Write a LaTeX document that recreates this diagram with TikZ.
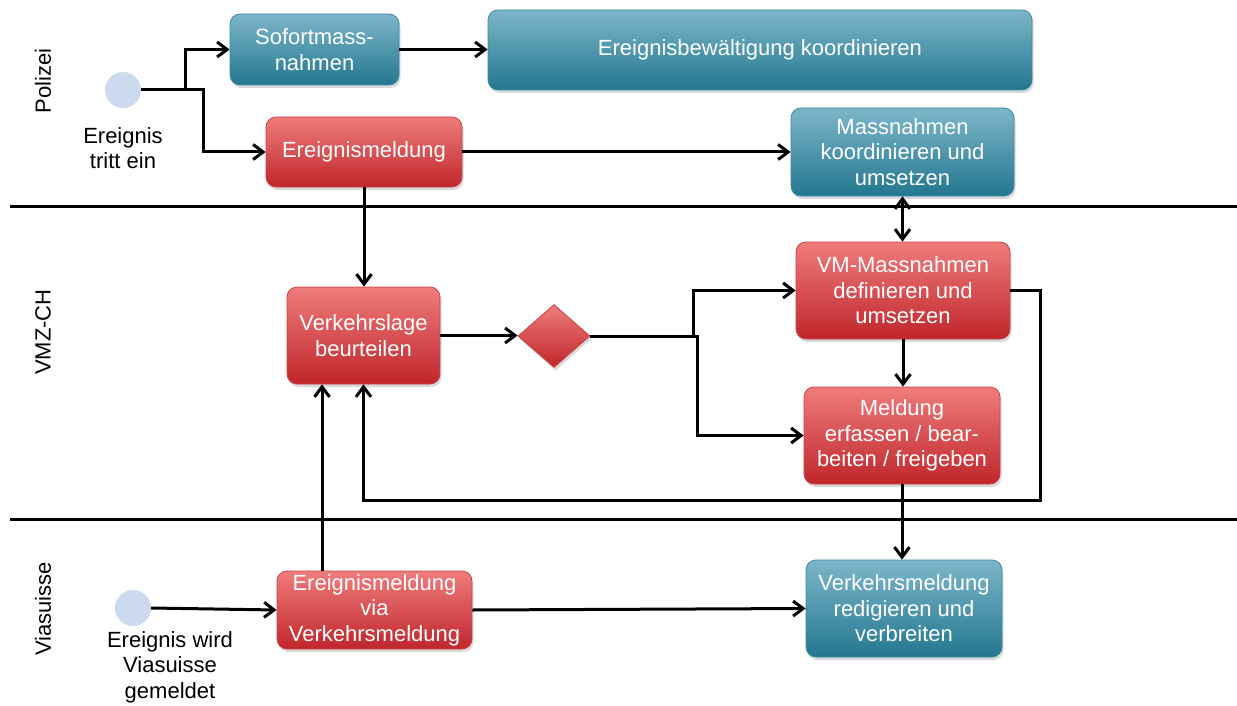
\documentclass[tikz,border=0pt]{standalone}
\usepackage{fontspec}
\setmainfont{Liberation Sans}
\usetikzlibrary{arrows.meta,shapes.geometric,shadows}
\definecolor{tealT}{HTML}{7DB6CA}
\definecolor{tealB}{HTML}{23778F}
\definecolor{tealD}{HTML}{3A8AA4}
\definecolor{redT}{HTML}{F07C7C}
\definecolor{redB}{HTML}{BF262B}
\definecolor{redD}{HTML}{C84545}
\definecolor{startc}{HTML}{CCDAEE}
\tikzset{
  txt/.style={font=\fontsize{22}{25.5}\selectfont, align=center, inner sep=0pt},
  box/.style={txt, rounded corners=10pt, text=white, line width=0.8pt,
    drop shadow={shadow xshift=1.5pt,shadow yshift=-3pt,opacity=0.3}},
  tealbox/.style={box, draw=tealD, top color=tealT, bottom color=tealB},
  redbox/.style={box, draw=redD, top color=redT, bottom color=redB},
  startev/.style={circle, fill=startc, minimum size=36pt, inner sep=0pt},
  arr/.style={line width=3pt, -{Straight Barb[length=10pt,width=15pt]}},
  darr/.style={line width=3pt, {Straight Barb[length=10pt,width=15pt]}-{Straight Barb[length=10pt,width=15pt]}},
  lane/.style={line width=3pt},
  lanelbl/.style={txt, rotate=90}
}
\begin{document}
\begin{tikzpicture}[x=1pt,y=-1pt]
\useasboundingbox (0,0) rectangle (1237,706);
% lanes
\draw[lane] (10,206) -- (1237,206);
\draw[lane] (10,519) -- (1237,519);
\node[lanelbl] (lp) at (43,81) {Polizei};
\node[lanelbl] (lv) at (43,332) {VMZ-CH};
\node[lanelbl] (lva) at (43,609) {Viasuisse};
% start events
\node[startev] (s1) at (123,90) {};
\node[txt] (l1) at (123,148) {Ereignis\\tritt ein};
\node[startev] (s2) at (133,608) {};
\node[txt] (l2) at (170,667) {Ereignis wird\\Viasuisse\\gemeldet};
% boxes
\node[tealbox, minimum width=169pt, minimum height=71pt] (sof) at (314.5,49.5) {Sofortmass-\\nahmen};
\node[tealbox, minimum width=544pt, minimum height=80pt] (ereb) at (760,50) {Ereignisbewältigung koordinieren};
\node[tealbox, minimum width=223pt, minimum height=88pt] (mk) at (902.5,152) {Massnahmen\\koordinieren und\\umsetzen};
\node[redbox, minimum width=196pt, minimum height=70pt] (em1) at (364,152) {Ereignismeldung};
\node[redbox, minimum width=153pt, minimum height=97pt] (vl) at (363.5,335.5) {Verkehrslage\\beurteilen};
\node[diamond, aspect=1.14, minimum width=72pt, minimum height=63pt, inner sep=0pt, draw=redD, line width=0.8pt, top color=redT, bottom color=redB, drop shadow={shadow xshift=1.5pt,shadow yshift=-3pt,opacity=0.3}] (dia) at (554,336) {};
\node[redbox, minimum width=214pt, minimum height=97pt] (vm) at (903,290.5) {VM-Massnahmen\\definieren und\\umsetzen};
\node[redbox, minimum width=196pt, minimum height=97pt] (mel) at (902,435.5) {Meldung\\erfassen / bear-\\beiten / freigeben};
\node[tealbox, minimum width=196pt, minimum height=97pt] (vrm) at (904,608.5) {Verkehrsmeldung\\redigieren und\\verbreiten};
\node[redbox, minimum width=195pt, minimum height=78pt] (em2) at (374.5,610) {Ereignismeldung\\via\\Verkehrsmeldung};
% junction coordinates
\coordinate (j1) at (185,90);
\coordinate (j2) at (203,90);
\coordinate (j3) at (693,336);
\coordinate (j4) at (697,336);
\coordinate (fb) at (1040,500);
\coordinate (vlb) at ([xshift=-41.5pt]vl.south);
% connectors
\draw[arr] (s1.east) -- (j1) |- (sof.west);
\draw[arr] (s1.east) -- (j2) |- (em1.west);
\draw[arr] (sof.east) -- (sof.east -| ereb.west);
\draw[arr] (em1.east) -- (em1.east -| mk.west);
\draw[arr] (em1.south) -- (em1.south |- vl.north);
\draw[arr] (vl.east) -- (vl.east -| dia.west);
\draw[arr] (dia.east) -- (j3) |- (vm.west);
\draw[arr] (dia.east) -- (j4) |- (mel.west);
\draw[darr] (mk.south) -- (mk.south |- vm.north);
\draw[arr] (vm.south) -- (vm.south |- mel.north);
\draw[arr] (vm.east) -| (fb) -| (vl.south);
\draw[arr] (mel.south) -- (mel.south |- vrm.north);
\draw[arr] (em2.north -| vlb) -- (vlb);
\draw[arr] (em2.east) -- (vrm.west);
\draw[arr] (s2.east) -- (em2.west);
\end{tikzpicture}
\end{document}
